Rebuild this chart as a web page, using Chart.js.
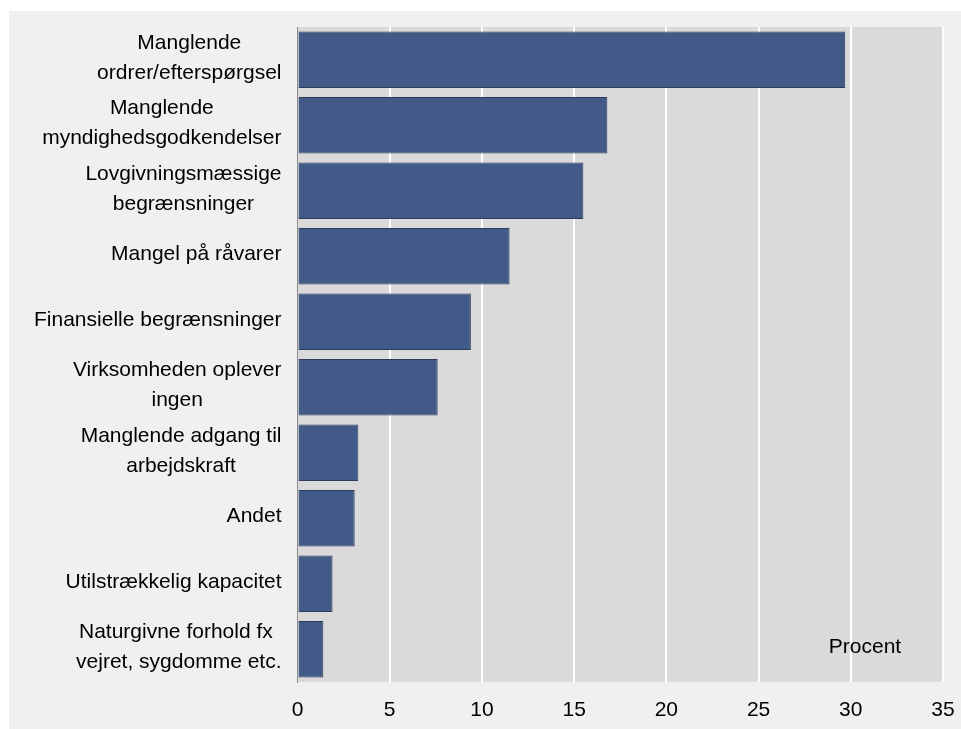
<!DOCTYPE html>
<html>
<head>
<meta charset="utf-8">
<script src="https://cdn.jsdelivr.net/npm/chart.js@4/dist/chart.umd.min.js"></script>
<style>
  html, body { margin: 0; padding: 0; background: #fff; overflow: hidden; }
  #frame { position: absolute; left: 9px; top: 11px; width: 952px; height: 718px; background: #f0f0f0; overflow: hidden; }
  #chart { display: block; }
</style>
</head>
<body>
<div id="frame"><canvas id="chart" width="952" height="718"></canvas></div>
<script>
// Categories (each entry = lines of the label)
const categories = [
    ['Manglende', 'ordrer/efterspørgsel'],
    ['Manglende', 'myndighedsgodkendelser'],
    ['Lovgivningsmæssige', 'begrænsninger'],
    ['Mangel på råvarer'],
    ['Finansielle begrænsninger'],
    ['Virksomheden oplever', 'ingen'],
    ['Manglende adgang til', 'arbejdskraft'],
    ['Andet'],
    ['Utilstrækkelig kapacitet'],
    ['Naturgivne forhold fx ', 'vejret, sygdomme etc.']
];
const values = [29.7, 16.8, 15.5, 11.5, 9.4, 7.6, 3.3, 3.1, 1.9, 1.4];
const xTicks = [0, 5, 10, 15, 20, 25, 30, 35];
const unitLabel = 'Procent';

const font = '"Liberation Sans", Arial, sans-serif';

// plot background + category labels + unit text
const decor = {
    id: 'decor',
    beforeDraw(chart) {
        const ctx = chart.ctx, a = chart.chartArea;
        ctx.save();
        ctx.fillStyle = '#dadada';
        ctx.fillRect(a.left, a.top, a.right - a.left, a.bottom - a.top);
        ctx.restore();
    },
    afterDraw(chart) {
        const ctx = chart.ctx, a = chart.chartArea;
        const yScale = chart.scales.y;
        ctx.save();
        ctx.font = '21px ' + font;
        ctx.fillStyle = '#000';
        ctx.textBaseline = 'middle';
        ctx.textAlign = 'center';
        const right = a.left - 16;
        const lineH = 30;
        categories.forEach((lines, i) => {
            const yc = yScale.getPixelForValue(i) - 2;
            const w = Math.max(...lines.map(l => ctx.measureText(l).width));
            const xc = right - w / 2;
            lines.forEach((l, j) => {
                ctx.fillText(l, xc, yc + (j - (lines.length - 1) / 2) * lineH);
            });
        });
        ctx.fillText(unitLabel, a.right - 78, a.bottom - 35);
        ctx.restore();
    }
};

new Chart(document.getElementById('chart').getContext('2d'), {
    type: 'bar',
    data: {
        labels: categories.map(c => c.join(' ')),
        datasets: [{
            data: values,
            backgroundColor: '#415a87',
            borderColor: '#2c3b5a',
            borderWidth: 1,
            barPercentage: 0.86,
            categoryPercentage: 1
        }]
    },
    options: {
        indexAxis: 'y',
        responsive: false,
        animation: false,
        layout: { padding: { top: 16, right: 18, left: 0, bottom: 0 } },
        plugins: { legend: { display: false }, tooltip: { enabled: false } },
        scales: {
            x: {
                min: 0,
                max: 35,
                afterBuildTicks: (scale) => { scale.ticks = xTicks.map(v => ({ value: v })); },
                afterFit: (scale) => {
                    scale.height = 47;
                    // fixed plot edges, no extra room for the end labels
                    scale.paddingLeft = 0;
                    scale.paddingRight = 0;
                },
                grid: {
                    color: (c) => c.tick && c.tick.value === 0 ? 'rgba(0,0,0,0)' : '#ffffff',
                    lineWidth: 2,
                    drawTicks: false
                },
                border: { display: false },
                ticks: { color: '#000', padding: 16, font: { family: font, size: 21 } }
            },
            y: {
                afterFit: (scale) => {
                    scale.width = 288.5;
                    scale.paddingTop = 0;
                    scale.paddingBottom = 0;
                },
                grid: { display: false, drawTicks: false },
                border: { display: true, color: '#8a8a8a', width: 1 },
                ticks: { display: false }
            }
        }
    },
    plugins: [decor]
});
</script>
</body>
</html>
